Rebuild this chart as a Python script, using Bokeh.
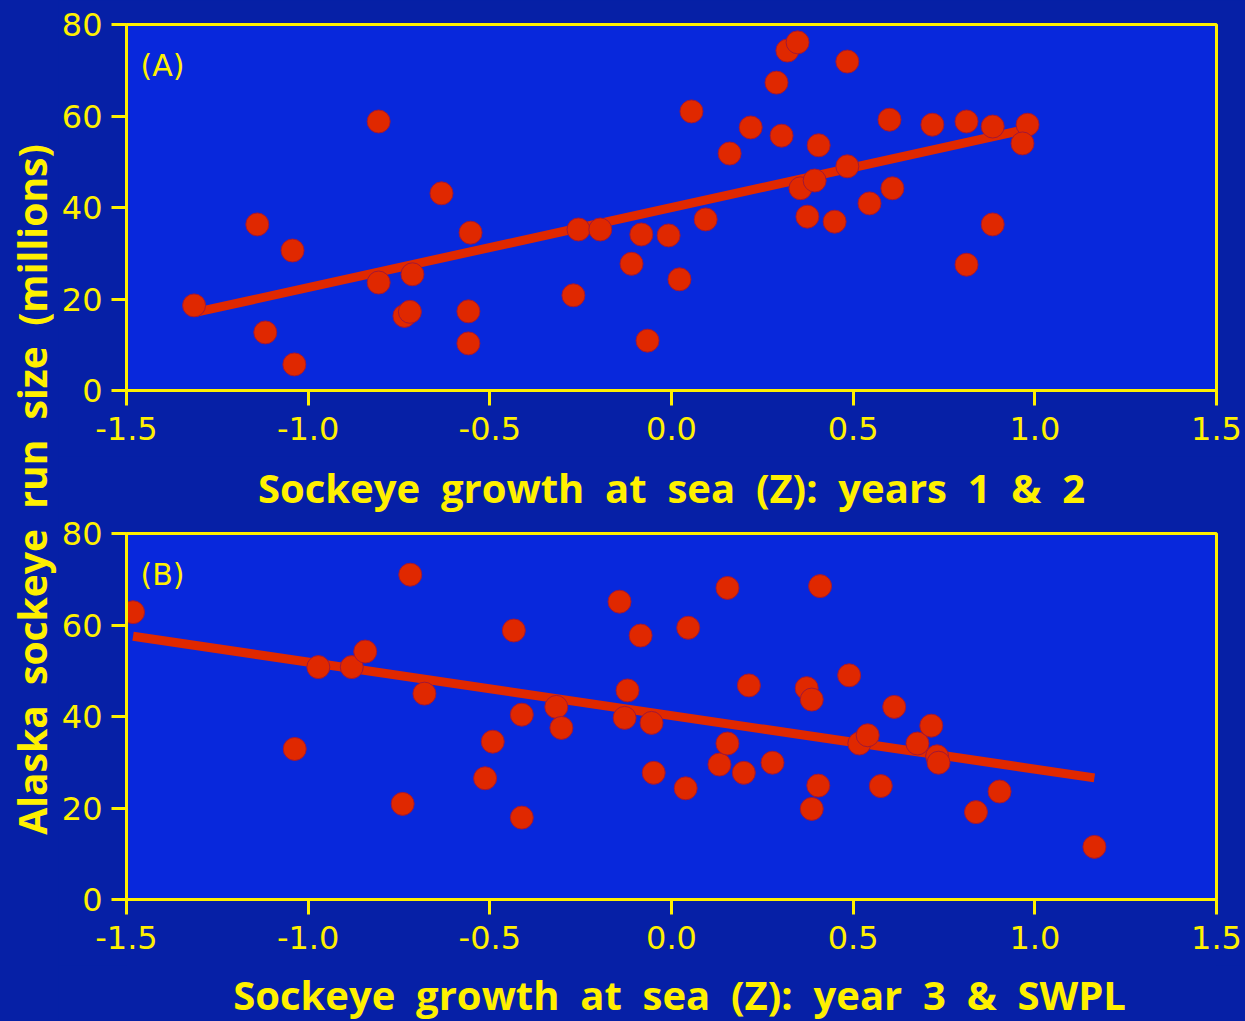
import numpy as np
from bokeh.plotting import figure
from bokeh.layouts import row, column
from bokeh.models import Range1d, FixedTicker, Label, LinearAxis
from bokeh.embed import file_html
from bokeh.resources import INLINE

# ---------------- data ----------------
growth_a = [-1.314, -1.14, -1.118, -1.043, -1.038, -0.806, -0.806, -0.713, -0.735, -0.72,
            -0.633, -0.553, -0.559, -0.559, -0.27, -0.256, -0.196, -0.11, -0.083, -0.066,
            -0.008, 0.022, 0.055, 0.094, 0.16, 0.218, 0.289, 0.303, 0.319, 0.347,
            0.355, 0.374, 0.394, 0.405, 0.449, 0.484, 0.484, 0.545, 0.60, 0.608,
            0.718, 0.812, 0.812, 0.884, 0.884, 0.98, 0.966]
run_a = [18.6, 36.3, 12.7, 30.6, 5.7, 58.8, 23.6, 25.4, 16.3, 17.2,
         43.1, 34.5, 17.3, 10.3, 20.8, 35.2, 35.2, 27.7, 34.1, 10.9,
         33.9, 24.3, 61.0, 37.4, 51.8, 57.5, 67.3, 55.7, 74.3, 76.1,
         44.2, 38.0, 45.9, 53.6, 36.9, 71.9, 49.0, 40.9, 59.2, 44.2,
         58.1, 58.8, 27.5, 57.7, 36.3, 58.1, 54.0]

growth_b = [-1.482, -0.719, -0.972, -0.88, -0.843, -1.037, -0.74, -0.68, -0.513, -0.492,
            -0.434, -0.412, -0.412, -0.317, -0.303, -0.143, -0.121, -0.129, -0.085, -0.055,
            -0.049, 0.039, 0.046, 0.132, 0.154, 0.154, 0.199, 0.213, 0.278, 0.372,
            0.386, 0.386, 0.409, 0.404, 0.489, 0.517, 0.540, 0.576, 0.613, 0.677,
            0.715, 0.731, 0.735, 0.838, 0.903, 1.164]
run_b = [62.8, 71.0, 50.8, 50.8, 54.2, 32.9, 20.9, 45.0, 26.5, 34.5,
         58.8, 40.4, 17.9, 42.1, 37.5, 65.1, 45.7, 39.7, 57.7, 38.6,
         27.7, 24.3, 59.4, 29.5, 34.1, 68.1, 27.7, 46.8, 29.9, 46.2,
         43.7, 19.8, 68.5, 24.9, 49.0, 34.1, 35.9, 24.8, 42.1, 34.1,
         38.0, 31.3, 29.9, 19.1, 23.6, 11.5]

fit_a_intercept, fit_a_slope = 40.0, 17.5
fit_b_intercept, fit_b_slope = 40.2, -11.7

x_ticks = [-1.5, -1.0, -0.5, 0.0, 0.5, 1.0, 1.5]
x_tick_labels = ["-1.5", "-1.0", "-0.5", "0.0", "0.5", "1.0", "1.5"]
y_ticks = [0, 20, 40, 60, 80]

title_a = "Sockeye\u00a0 growth\u00a0 at\u00a0 sea\u00a0 (Z):\u00a0 years\u00a0 1\u00a0 &\u00a0 2"
title_b = "Sockeye\u00a0 growth\u00a0 at\u00a0 sea\u00a0 (Z):\u00a0 year\u00a0 3\u00a0 &\u00a0 SWPL"
y_title = "Alaska\u00a0 sockeye\u00a0 run\u00a0 size\u00a0 (millions)"

# ---------------- style ----------------
OUTER = "#0620A6"
INNER = "#0828DC"
YELLOW = "#FFF000"
RED = "#E02800"
TICK_FONT = "DejaVu Sans"
TITLE_FONT = "Open Sans"
LAB_W = 58
PANEL_W = 1245 - LAB_W
BORDER_L = PANEL_W - 1090 - 30


def make_panel(xs, ys, b0, b1, tag, top, bottom):
    p = figure(frame_width=1090, frame_height=366,
               min_border_left=BORDER_L, min_border_right=30,
               min_border_top=top, min_border_bottom=bottom,
               x_range=Range1d(-1.5, 1.5), y_range=Range1d(0, 80),
               output_backend="svg", toolbar_location=None, tools="")
    p.background_fill_color = INNER
    p.border_fill_color = OUTER
    p.outline_line_color = YELLOW
    p.outline_line_width = 3
    p.grid.visible = False

    xa = p.xaxis[0]
    xa.ticker = FixedTicker(ticks=x_ticks)
    xa.major_label_overrides = {t: l for t, l in zip(x_ticks, x_tick_labels)}
    ya = p.yaxis[0]
    ya.ticker = FixedTicker(ticks=y_ticks)
    for ax in (xa, ya):
        ax.axis_line_color = YELLOW
        ax.axis_line_width = 3
        ax.major_tick_line_color = YELLOW
        ax.major_tick_line_width = 3
        ax.major_tick_out = 15
        ax.major_tick_in = 0
        ax.minor_tick_line_color = None
        ax.major_label_text_color = YELLOW
        ax.major_label_text_font = TICK_FONT
        ax.major_label_text_font_size = "32px"
    xa.major_label_standoff = 11
    ya.major_label_standoff = 9

    lx = np.array([min(xs), max(xs)])
    p.line(lx, b0 + b1 * lx, line_color=RED, line_width=9)
    p.scatter(xs, ys, size=23, fill_color=RED, line_color="#A01838", line_width=1)

    p.add_layout(Label(x=-1.5, y=80, x_offset=14, y_offset=-23, text=tag,
                       text_font=TICK_FONT, text_font_size="30px",
                       text_color=YELLOW, text_baseline="top", text_align="left"))
    return p


pa = make_panel(growth_a, run_a, fit_a_intercept, fit_a_slope, "(A)", 24, 66)    # 0..456
pb = make_panel(growth_b, run_b, fit_b_intercept, fit_b_slope, "(B)", 75, 66)    # 456..963

# title of panel A lives in the top border of panel B (a label-only axis)
top_ax = LinearAxis(ticker=FixedTicker(ticks=[]), axis_line_color=None,
                    major_tick_line_color=None, minor_tick_line_color=None,
                    major_label_text_font_size="0px",
                    axis_label=title_a, axis_label_text_font=TITLE_FONT,
                    axis_label_text_font_style="bold", axis_label_text_font_size="40px",
                    axis_label_text_color=YELLOW, axis_label_standoff=19)
pb.add_layout(top_ax, "above")

# title of panel B: a strip under panel B                                          963..1021
tb = figure(frame_width=1090, frame_height=58,
            min_border_left=BORDER_L, min_border_right=30,
            min_border_top=0, min_border_bottom=0,
            x_range=Range1d(-1.5, 1.5), y_range=Range1d(0, 58),
            output_backend="svg", toolbar_location=None, tools="")
tb.axis.visible = False
tb.grid.visible = False
tb.outline_line_color = None
tb.background_fill_color = OUTER
tb.border_fill_color = OUTER
tb.add_layout(Label(x=0, y=29, x_offset=8, text=title_b,
                    text_font=TITLE_FONT, text_font_style="bold",
                    text_font_size="40px", text_color=YELLOW,
                    text_align="center", text_baseline="middle"))

lab = figure(frame_width=LAB_W, frame_height=1021, min_border=0,
             x_range=Range1d(0, LAB_W), y_range=Range1d(0, 1021),
             output_backend="svg", toolbar_location=None, tools="")
lab.axis.visible = False
lab.grid.visible = False
lab.outline_line_color = None
lab.background_fill_color = OUTER
lab.border_fill_color = OUTER
lab.add_layout(Label(x=31, y=1021 * 0.521, text=y_title, angle=np.pi / 2,
                     text_font=TITLE_FONT, text_font_style="bold",
                     text_font_size="39px", text_color=YELLOW,
                     text_align="center", text_baseline="middle"))

layout = row(lab, column(pa, pb, tb, spacing=0, styles={"background-color": OUTER}),
             spacing=0, styles={"background-color": OUTER})

open("out.html", "w").write(file_html(layout, INLINE))
